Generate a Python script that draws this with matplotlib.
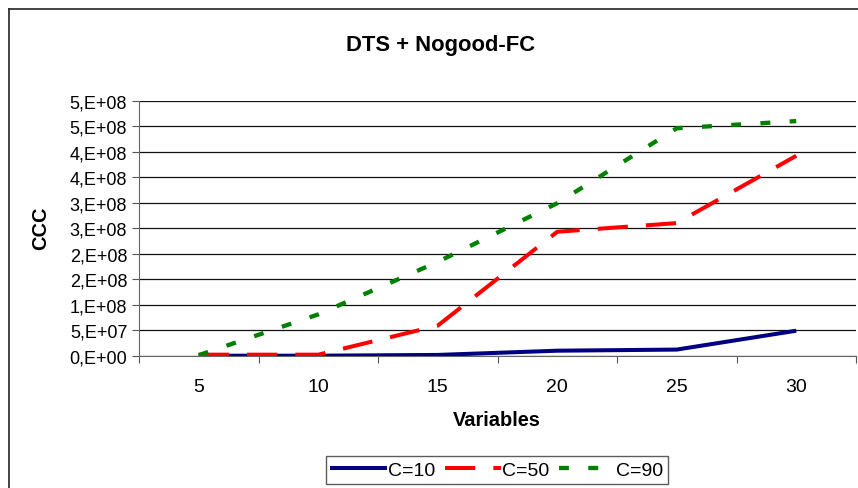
import matplotlib.pyplot as plt
from matplotlib.lines import Line2D

# data
variables = ['5', '10', '15', '20', '25', '30']
c10 = [0.0, 0.0, 1.5e6, 9.8e6, 1.2e7, 4.9e7]
c50 = [2.0e6, 2.0e6, 5.9e7, 2.43e8, 2.60e8, 3.92e8]
c90 = [1.0e6, 8.1e7, 1.84e8, 2.99e8, 4.46e8, 4.60e8]
y_ticks = [0, 5e7, 1e8, 1.5e8, 2e8, 2.5e8, 3e8, 3.5e8, 4e8, 4.5e8, 5e8]
y_labels = ['0,E+00', '5,E+07', '1,E+08', '2,E+08', '2,E+08', '3,E+08',
            '3,E+08', '4,E+08', '4,E+08', '5,E+08', '5,E+08']

plt.rcParams['font.family'] = ['Liberation Sans', 'DejaVu Sans']

W, H = 858, 489
fig = plt.figure(figsize=(W / 100, H / 100), dpi=100)

# outer chart frame (screenshot is cropped on the right and bottom)
fig.add_artist(Line2D([9 / W, 9 / W], [0, 1 - 10 / H], color='#222222', lw=1.2))
fig.add_artist(Line2D([9 / W, 1], [1 - 10 / H, 1 - 10 / H], color='#222222', lw=1.2))

ax = fig.add_axes([139 / W, 1 - 356.7 / H, (856 - 139) / W, (356.7 - 101.7) / H])

x = list(range(1, len(variables) + 1))
ax.plot(x, c10, color='#000080', lw=2.9, solid_capstyle='butt', label='C=10')
ax.plot(x, c50, color='#ff0000', lw=2.9, dashes=(7.5, 4.5), dash_capstyle='butt', label='C=50')
ax.plot(x, c90, color='#008000', lw=3.1, dashes=(2.3, 4.5), dash_capstyle='butt', label='C=90')

ax.set_xlim(0.5, len(variables) + 0.5)
ax.set_ylim(0, 5e8)
ax.set_yticks(y_ticks)
ax.set_yticklabels(y_labels)
ax.set_xticks(x)
ax.set_xticklabels(variables)
ax.set_xticks([i + 0.5 for i in range(len(variables) + 1)], minor=True)
ax.tick_params(axis='x', which='major', length=0, pad=16, labelsize=14)
ax.tick_params(axis='x', which='minor', length=5, width=0.8, color='#555555', direction='out')
ax.tick_params(axis='y', length=5, width=0.8, color='#555555', direction='out', pad=3.5, labelsize=13)

ax.grid(axis='y', color='#111111', lw=0.9)
ax.set_axisbelow(True)
for s in ['top', 'right']:
    ax.spines[s].set_visible(False)
ax.spines['left'].set_color('#666666')
ax.spines['bottom'].set_color('#666666')

fig.text(441 / W, 1 - 45.5 / H, 'DTS + Nogood-FC', fontsize=15.8, fontweight='bold',
         ha='center', va='center')
fig.text(497 / W, 1 - 420 / H, 'Variables', fontsize=14.4, fontweight='bold',
         ha='center', va='center')
fig.text(41 / W, 1 - 228.5 / H, 'CCC', fontsize=14.4, fontweight='bold',
         ha='center', va='center', rotation=90)

leg = fig.legend(loc='center', bbox_to_anchor=(497 / W, 1 - 471 / H), ncol=3,
                 frameon=True, fancybox=False, fontsize=14, handlelength=2.9,
                 handletextpad=0.05, columnspacing=0.5, borderpad=0.25,
                 borderaxespad=0)
leg.get_frame().set_edgecolor('#333333')
leg.get_frame().set_linewidth(1.0)

fig.savefig('out.png', dpi=100)
